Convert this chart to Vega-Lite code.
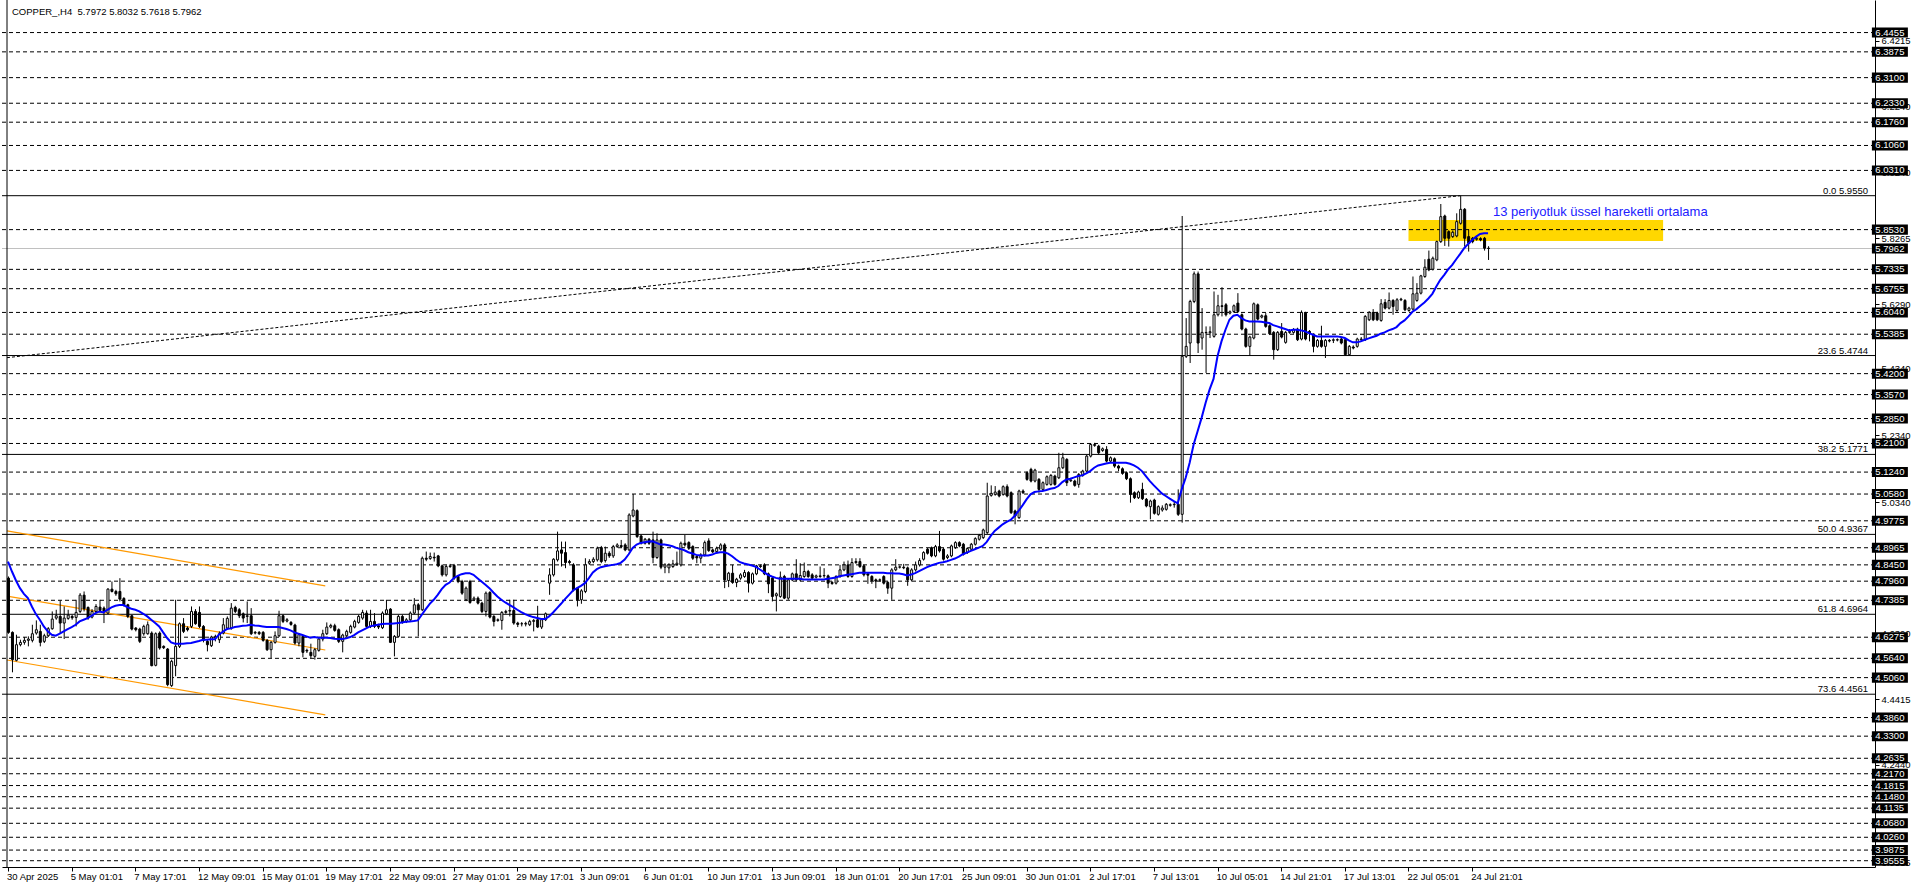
{
"$schema":"https://vega.github.io/schema/vega-lite/v6.json",
"width":1873,"height":867,
"autosize":{"type":"none"},
"padding":{"left":2,"top":0,"right":41,"bottom":21},
"background":"#ffffff",
"config":{"view":{"stroke":null},"font":"Liberation Sans","text":{"font":"Liberation Sans"}},
"datasets":{
"lv":[{"p":6.4455},{"p":6.3875},{"p":6.31},{"p":6.233},{"p":6.176},{"p":6.106},{"p":6.031},{"p":5.853},{"p":5.7335},{"p":5.6755},{"p":5.604},{"p":5.5385},{"p":5.42},{"p":5.357},{"p":5.285},{"p":5.21},{"p":5.124},{"p":5.058},{"p":4.9775},{"p":4.8965},{"p":4.845},{"p":4.796},{"p":4.7385},{"p":4.6275},{"p":4.564},{"p":4.506},{"p":4.386},{"p":4.33},{"p":4.2635},{"p":4.217},{"p":4.1815},{"p":4.148},{"p":4.1135},{"p":4.068},{"p":4.026},{"p":3.9875},{"p":3.9555}],
"bx":[{"p":6.4455},{"p":6.3875},{"p":6.31},{"p":6.233},{"p":6.176},{"p":6.106},{"p":6.031},{"p":5.853},{"p":5.7962},{"p":5.7335},{"p":5.6755},{"p":5.604},{"p":5.5385},{"p":5.42},{"p":5.357},{"p":5.285},{"p":5.21},{"p":5.124},{"p":5.058},{"p":4.9775},{"p":4.8965},{"p":4.845},{"p":4.796},{"p":4.7385},{"p":4.6275},{"p":4.564},{"p":4.506},{"p":4.386},{"p":4.33},{"p":4.2635},{"p":4.217},{"p":4.1815},{"p":4.148},{"p":4.1135},{"p":4.068},{"p":4.026},{"p":3.9875},{"p":3.9555}],
"fib":[{"p":5.955,"t":"0.0 5.9550"},{"p":5.4744,"t":"23.6 5.4744"},{"p":5.1771,"t":"38.2 5.1771"},{"p":4.9367,"t":"50.0 4.9367"},{"p":4.6964,"t":"61.8 4.6964"},{"p":4.4561,"t":"73.6 4.4561"}],
"xl":[{"i":0,"t":"30 Apr 2025"},{"i":16,"t":"5 May 01:01"},{"i":32,"t":"7 May 17:01"},{"i":48,"t":"12 May 09:01"},{"i":64,"t":"15 May 01:01"},{"i":80,"t":"19 May 17:01"},{"i":96,"t":"22 May 09:01"},{"i":112,"t":"27 May 01:01"},{"i":128,"t":"29 May 17:01"},{"i":144,"t":"3 Jun 09:01"},{"i":160,"t":"6 Jun 01:01"},{"i":176,"t":"10 Jun 17:01"},{"i":192,"t":"13 Jun 09:01"},{"i":208,"t":"18 Jun 01:01"},{"i":224,"t":"20 Jun 17:01"},{"i":240,"t":"25 Jun 09:01"},{"i":256,"t":"30 Jun 01:01"},{"i":272,"t":"2 Jul 17:01"},{"i":288,"t":"7 Jul 13:01"},{"i":304,"t":"10 Jul 05:01"},{"i":320,"t":"14 Jul 21:01"},{"i":336,"t":"17 Jul 13:01"},{"i":352,"t":"22 Jul 05:01"},{"i":368,"t":"24 Jul 21:01"}],
"bars":[
{"i":0,"o":4.805,"h":4.81,"l":4.638,"c":4.642,"e":4.855},
{"i":1,"o":4.642,"h":4.645,"l":4.522,"c":4.56,"e":4.825},
{"i":2,"o":4.558,"h":4.635,"l":4.555,"c":4.605,"e":4.798},
{"i":3,"o":4.605,"h":4.62,"l":4.6,"c":4.612,"e":4.775},
{"i":4,"o":4.612,"h":4.628,"l":4.605,"c":4.618,"e":4.758},
{"i":5,"o":4.618,"h":4.63,"l":4.6,"c":4.622,"e":4.745},
{"i":6,"o":4.618,"h":4.665,"l":4.612,"c":4.638,"e":4.72},
{"i":7,"o":4.64,"h":4.678,"l":4.635,"c":4.65,"e":4.697},
{"i":8,"o":4.645,"h":4.665,"l":4.6,"c":4.612,"e":4.68},
{"i":9,"o":4.615,"h":4.638,"l":4.61,"c":4.632,"e":4.66},
{"i":10,"o":4.632,"h":4.658,"l":4.628,"c":4.653,"e":4.645},
{"i":11,"o":4.653,"h":4.705,"l":4.65,"c":4.682,"e":4.635},
{"i":12,"o":4.685,"h":4.71,"l":4.68,"c":4.692,"e":4.632},
{"i":13,"o":4.69,"h":4.738,"l":4.64,"c":4.67,"e":4.638},
{"i":14,"o":4.67,"h":4.72,"l":4.622,"c":4.685,"e":4.645},
{"i":15,"o":4.684,"h":4.71,"l":4.68,"c":4.694,"e":4.652},
{"i":16,"o":4.69,"h":4.695,"l":4.68,"c":4.686,"e":4.658},
{"i":17,"o":4.687,"h":4.74,"l":4.66,"c":4.702,"e":4.665},
{"i":18,"o":4.705,"h":4.76,"l":4.7,"c":4.754,"e":4.675},
{"i":19,"o":4.754,"h":4.765,"l":4.705,"c":4.713,"e":4.68},
{"i":20,"o":4.717,"h":4.72,"l":4.68,"c":4.685,"e":4.685},
{"i":21,"o":4.688,"h":4.712,"l":4.684,"c":4.705,"e":4.692},
{"i":22,"o":4.705,"h":4.727,"l":4.7,"c":4.72,"e":4.7},
{"i":23,"o":4.718,"h":4.74,"l":4.704,"c":4.708,"e":4.705},
{"i":24,"o":4.715,"h":4.72,"l":4.67,"c":4.705,"e":4.702},
{"i":25,"o":4.7,"h":4.775,"l":4.697,"c":4.772,"e":4.71},
{"i":26,"o":4.772,"h":4.795,"l":4.762,"c":4.765,"e":4.717},
{"i":27,"o":4.765,"h":4.77,"l":4.752,"c":4.758,"e":4.722},
{"i":28,"o":4.765,"h":4.805,"l":4.735,"c":4.742,"e":4.724},
{"i":29,"o":4.744,"h":4.748,"l":4.72,"c":4.725,"e":4.724},
{"i":30,"o":4.725,"h":4.728,"l":4.685,"c":4.69,"e":4.718},
{"i":31,"o":4.692,"h":4.695,"l":4.648,"c":4.652,"e":4.713},
{"i":32,"o":4.655,"h":4.658,"l":4.645,"c":4.65,"e":4.71},
{"i":33,"o":4.652,"h":4.656,"l":4.61,"c":4.615,"e":4.705},
{"i":34,"o":4.638,"h":4.665,"l":4.632,"c":4.66,"e":4.698},
{"i":35,"o":4.638,"h":4.675,"l":4.635,"c":4.665,"e":4.69},
{"i":36,"o":4.64,"h":4.645,"l":4.54,"c":4.542,"e":4.68},
{"i":37,"o":4.543,"h":4.642,"l":4.54,"c":4.638,"e":4.67},
{"i":38,"o":4.64,"h":4.645,"l":4.59,"c":4.595,"e":4.66},
{"i":39,"o":4.6,"h":4.603,"l":4.592,"c":4.596,"e":4.642},
{"i":40,"o":4.592,"h":4.595,"l":4.48,"c":4.485,"e":4.625},
{"i":41,"o":4.482,"h":4.56,"l":4.478,"c":4.555,"e":4.612},
{"i":42,"o":4.542,"h":4.74,"l":4.51,"c":4.6,"e":4.608},
{"i":43,"o":4.6,"h":4.672,"l":4.595,"c":4.668,"e":4.608},
{"i":44,"o":4.668,"h":4.685,"l":4.64,"c":4.645,"e":4.608},
{"i":45,"o":4.655,"h":4.66,"l":4.645,"c":4.65,"e":4.609},
{"i":46,"o":4.66,"h":4.72,"l":4.655,"c":4.705,"e":4.61},
{"i":47,"o":4.705,"h":4.712,"l":4.665,"c":4.668,"e":4.613},
{"i":48,"o":4.702,"h":4.72,"l":4.655,"c":4.66,"e":4.616},
{"i":49,"o":4.66,"h":4.664,"l":4.612,"c":4.618,"e":4.62},
{"i":50,"o":4.615,"h":4.62,"l":4.585,"c":4.605,"e":4.62},
{"i":51,"o":4.602,"h":4.632,"l":4.598,"c":4.628,"e":4.621},
{"i":52,"o":4.625,"h":4.635,"l":4.615,"c":4.63,"e":4.621},
{"i":53,"o":4.62,"h":4.645,"l":4.61,"c":4.638,"e":4.635},
{"i":54,"o":4.64,"h":4.685,"l":4.636,"c":4.665,"e":4.644},
{"i":55,"o":4.655,"h":4.69,"l":4.65,"c":4.684,"e":4.652},
{"i":56,"o":4.655,"h":4.73,"l":4.65,"c":4.715,"e":4.654},
{"i":57,"o":4.717,"h":4.722,"l":4.7,"c":4.705,"e":4.658},
{"i":58,"o":4.71,"h":4.715,"l":4.685,"c":4.692,"e":4.66},
{"i":59,"o":4.698,"h":4.702,"l":4.672,"c":4.685,"e":4.662},
{"i":60,"o":4.69,"h":4.735,"l":4.67,"c":4.692,"e":4.663},
{"i":61,"o":4.692,"h":4.715,"l":4.634,"c":4.638,"e":4.665},
{"i":62,"o":4.64,"h":4.646,"l":4.636,"c":4.642,"e":4.663},
{"i":63,"o":4.642,"h":4.646,"l":4.634,"c":4.638,"e":4.662},
{"i":64,"o":4.642,"h":4.646,"l":4.614,"c":4.618,"e":4.66},
{"i":65,"o":4.618,"h":4.622,"l":4.586,"c":4.59,"e":4.658},
{"i":66,"o":4.59,"h":4.616,"l":4.565,"c":4.612,"e":4.658},
{"i":67,"o":4.612,"h":4.645,"l":4.608,"c":4.632,"e":4.658},
{"i":68,"o":4.632,"h":4.707,"l":4.628,"c":4.692,"e":4.658},
{"i":69,"o":4.692,"h":4.696,"l":4.67,"c":4.675,"e":4.655},
{"i":70,"o":4.676,"h":4.685,"l":4.672,"c":4.68,"e":4.652},
{"i":71,"o":4.672,"h":4.676,"l":4.662,"c":4.666,"e":4.648},
{"i":72,"o":4.664,"h":4.668,"l":4.605,"c":4.61,"e":4.642},
{"i":73,"o":4.61,"h":4.64,"l":4.6,"c":4.635,"e":4.638},
{"i":74,"o":4.63,"h":4.634,"l":4.567,"c":4.582,"e":4.634},
{"i":75,"o":4.588,"h":4.593,"l":4.58,"c":4.586,"e":4.63},
{"i":76,"o":4.582,"h":4.608,"l":4.565,"c":4.572,"e":4.626},
{"i":77,"o":4.57,"h":4.595,"l":4.56,"c":4.59,"e":4.628},
{"i":78,"o":4.588,"h":4.626,"l":4.584,"c":4.622,"e":4.626},
{"i":79,"o":4.622,"h":4.65,"l":4.615,"c":4.638,"e":4.626},
{"i":80,"o":4.638,"h":4.672,"l":4.634,"c":4.658,"e":4.626},
{"i":81,"o":4.658,"h":4.668,"l":4.654,"c":4.663,"e":4.625},
{"i":82,"o":4.662,"h":4.668,"l":4.644,"c":4.648,"e":4.623},
{"i":83,"o":4.65,"h":4.654,"l":4.61,"c":4.615,"e":4.622},
{"i":84,"o":4.615,"h":4.638,"l":4.582,"c":4.634,"e":4.622},
{"i":85,"o":4.632,"h":4.65,"l":4.628,"c":4.645,"e":4.624},
{"i":86,"o":4.642,"h":4.665,"l":4.638,"c":4.66,"e":4.628},
{"i":87,"o":4.658,"h":4.68,"l":4.654,"c":4.675,"e":4.634},
{"i":88,"o":4.672,"h":4.695,"l":4.668,"c":4.69,"e":4.642},
{"i":89,"o":4.685,"h":4.71,"l":4.68,"c":4.702,"e":4.648},
{"i":90,"o":4.7,"h":4.708,"l":4.655,"c":4.66,"e":4.654},
{"i":91,"o":4.66,"h":4.71,"l":4.655,"c":4.675,"e":4.66},
{"i":92,"o":4.675,"h":4.7,"l":4.655,"c":4.66,"e":4.663},
{"i":93,"o":4.662,"h":4.668,"l":4.652,"c":4.658,"e":4.665},
{"i":94,"o":4.656,"h":4.705,"l":4.652,"c":4.7,"e":4.667},
{"i":95,"o":4.698,"h":4.74,"l":4.694,"c":4.71,"e":4.668},
{"i":96,"o":4.712,"h":4.715,"l":4.61,"c":4.612,"e":4.668},
{"i":97,"o":4.612,"h":4.634,"l":4.57,"c":4.63,"e":4.669},
{"i":98,"o":4.63,"h":4.695,"l":4.626,"c":4.69,"e":4.67},
{"i":99,"o":4.69,"h":4.695,"l":4.668,"c":4.672,"e":4.672},
{"i":100,"o":4.674,"h":4.685,"l":4.67,"c":4.68,"e":4.674},
{"i":101,"o":4.68,"h":4.705,"l":4.676,"c":4.7,"e":4.675},
{"i":102,"o":4.7,"h":4.745,"l":4.696,"c":4.725,"e":4.676},
{"i":103,"o":4.725,"h":4.73,"l":4.63,"c":4.71,"e":4.678},
{"i":104,"o":4.71,"h":4.87,"l":4.706,"c":4.865,"e":4.695},
{"i":105,"o":4.865,"h":4.885,"l":4.856,"c":4.862,"e":4.712},
{"i":106,"o":4.864,"h":4.882,"l":4.86,"c":4.87,"e":4.728},
{"i":107,"o":4.868,"h":4.882,"l":4.855,"c":4.866,"e":4.74},
{"i":108,"o":4.872,"h":4.875,"l":4.838,"c":4.842,"e":4.755},
{"i":109,"o":4.842,"h":4.846,"l":4.81,"c":4.815,"e":4.772},
{"i":110,"o":4.815,"h":4.845,"l":4.81,"c":4.84,"e":4.785},
{"i":111,"o":4.84,"h":4.848,"l":4.836,"c":4.842,"e":4.792},
{"i":112,"o":4.843,"h":4.848,"l":4.8,"c":4.805,"e":4.805},
{"i":113,"o":4.81,"h":4.814,"l":4.79,"c":4.795,"e":4.812},
{"i":114,"o":4.795,"h":4.8,"l":4.755,"c":4.76,"e":4.817},
{"i":115,"o":4.74,"h":4.78,"l":4.736,"c":4.775,"e":4.82},
{"i":116,"o":4.795,"h":4.8,"l":4.728,"c":4.732,"e":4.82},
{"i":117,"o":4.74,"h":4.75,"l":4.736,"c":4.745,"e":4.815},
{"i":118,"o":4.745,"h":4.75,"l":4.726,"c":4.73,"e":4.805},
{"i":119,"o":4.73,"h":4.734,"l":4.7,"c":4.705,"e":4.795},
{"i":120,"o":4.705,"h":4.765,"l":4.69,"c":4.76,"e":4.785},
{"i":121,"o":4.762,"h":4.766,"l":4.684,"c":4.688,"e":4.775},
{"i":122,"o":4.69,"h":4.694,"l":4.66,"c":4.675,"e":4.762},
{"i":123,"o":4.678,"h":4.684,"l":4.674,"c":4.68,"e":4.75},
{"i":124,"o":4.678,"h":4.706,"l":4.65,"c":4.702,"e":4.74},
{"i":125,"o":4.702,"h":4.71,"l":4.698,"c":4.705,"e":4.732},
{"i":126,"o":4.706,"h":4.74,"l":4.69,"c":4.708,"e":4.725},
{"i":127,"o":4.708,"h":4.74,"l":4.665,"c":4.67,"e":4.718},
{"i":128,"o":4.67,"h":4.674,"l":4.658,"c":4.666,"e":4.71},
{"i":129,"o":4.668,"h":4.673,"l":4.66,"c":4.668,"e":4.703},
{"i":130,"o":4.667,"h":4.674,"l":4.66,"c":4.669,"e":4.697},
{"i":131,"o":4.665,"h":4.68,"l":4.661,"c":4.675,"e":4.692},
{"i":132,"o":4.675,"h":4.682,"l":4.645,"c":4.678,"e":4.688},
{"i":133,"o":4.68,"h":4.722,"l":4.655,"c":4.658,"e":4.685},
{"i":134,"o":4.658,"h":4.684,"l":4.652,"c":4.68,"e":4.682},
{"i":135,"o":4.68,"h":4.702,"l":4.676,"c":4.698,"e":4.682},
{"i":136,"o":4.79,"h":4.835,"l":4.755,"c":4.815,"e":4.69},
{"i":137,"o":4.815,"h":4.865,"l":4.81,"c":4.862,"e":4.702},
{"i":138,"o":4.86,"h":4.945,"l":4.855,"c":4.887,"e":4.715},
{"i":139,"o":4.89,"h":4.915,"l":4.84,"c":4.88,"e":4.728},
{"i":140,"o":4.882,"h":4.915,"l":4.835,"c":4.852,"e":4.742},
{"i":141,"o":4.855,"h":4.86,"l":4.848,"c":4.852,"e":4.755},
{"i":142,"o":4.845,"h":4.85,"l":4.765,"c":4.77,"e":4.768},
{"i":143,"o":4.775,"h":4.778,"l":4.72,"c":4.74,"e":4.775},
{"i":144,"o":4.74,"h":4.772,"l":4.728,"c":4.767,"e":4.782},
{"i":145,"o":4.765,"h":4.865,"l":4.76,"c":4.845,"e":4.79},
{"i":146,"o":4.85,"h":4.862,"l":4.845,"c":4.855,"e":4.805},
{"i":147,"o":4.855,"h":4.868,"l":4.85,"c":4.862,"e":4.822},
{"i":148,"o":4.86,"h":4.9,"l":4.855,"c":4.895,"e":4.832},
{"i":149,"o":4.897,"h":4.902,"l":4.85,"c":4.855,"e":4.838},
{"i":150,"o":4.858,"h":4.9,"l":4.852,"c":4.88,"e":4.841},
{"i":151,"o":4.88,"h":4.886,"l":4.866,"c":4.872,"e":4.843},
{"i":152,"o":4.872,"h":4.905,"l":4.866,"c":4.9,"e":4.845},
{"i":153,"o":4.9,"h":4.91,"l":4.896,"c":4.905,"e":4.847},
{"i":154,"o":4.903,"h":4.92,"l":4.896,"c":4.9,"e":4.851},
{"i":155,"o":4.905,"h":4.91,"l":4.886,"c":4.89,"e":4.861},
{"i":156,"o":4.89,"h":5.0,"l":4.886,"c":4.995,"e":4.877},
{"i":157,"o":4.992,"h":5.058,"l":4.988,"c":5.01,"e":4.896},
{"i":158,"o":5.008,"h":5.012,"l":4.926,"c":4.93,"e":4.906},
{"i":159,"o":4.932,"h":4.936,"l":4.906,"c":4.91,"e":4.911},
{"i":160,"o":4.91,"h":4.926,"l":4.906,"c":4.922,"e":4.913},
{"i":161,"o":4.922,"h":4.926,"l":4.905,"c":4.91,"e":4.915},
{"i":162,"o":4.92,"h":4.945,"l":4.85,"c":4.867,"e":4.916},
{"i":163,"o":4.867,"h":4.94,"l":4.863,"c":4.92,"e":4.911},
{"i":164,"o":4.92,"h":4.924,"l":4.832,"c":4.838,"e":4.906},
{"i":165,"o":4.838,"h":4.85,"l":4.82,"c":4.845,"e":4.906},
{"i":166,"o":4.836,"h":4.85,"l":4.82,"c":4.845,"e":4.904},
{"i":167,"o":4.84,"h":4.86,"l":4.836,"c":4.848,"e":4.901},
{"i":168,"o":4.846,"h":4.885,"l":4.842,"c":4.85,"e":4.896},
{"i":169,"o":4.845,"h":4.915,"l":4.84,"c":4.91,"e":4.893},
{"i":170,"o":4.91,"h":4.935,"l":4.9,"c":4.905,"e":4.889},
{"i":171,"o":4.912,"h":4.916,"l":4.89,"c":4.895,"e":4.883},
{"i":172,"o":4.9,"h":4.904,"l":4.86,"c":4.865,"e":4.879},
{"i":173,"o":4.87,"h":4.874,"l":4.85,"c":4.866,"e":4.875},
{"i":174,"o":4.865,"h":4.88,"l":4.85,"c":4.875,"e":4.873},
{"i":175,"o":4.875,"h":4.918,"l":4.87,"c":4.912,"e":4.873},
{"i":176,"o":4.917,"h":4.925,"l":4.884,"c":4.888,"e":4.873},
{"i":177,"o":4.89,"h":4.894,"l":4.88,"c":4.884,"e":4.876},
{"i":178,"o":4.885,"h":4.9,"l":4.88,"c":4.895,"e":4.881},
{"i":179,"o":4.892,"h":4.91,"l":4.888,"c":4.905,"e":4.883},
{"i":180,"o":4.905,"h":4.91,"l":4.775,"c":4.8,"e":4.883},
{"i":181,"o":4.798,"h":4.824,"l":4.778,"c":4.82,"e":4.879},
{"i":182,"o":4.82,"h":4.845,"l":4.788,"c":4.792,"e":4.871},
{"i":183,"o":4.792,"h":4.806,"l":4.778,"c":4.802,"e":4.861},
{"i":184,"o":4.805,"h":4.82,"l":4.8,"c":4.815,"e":4.853},
{"i":185,"o":4.81,"h":4.83,"l":4.806,"c":4.822,"e":4.849},
{"i":186,"o":4.822,"h":4.826,"l":4.762,"c":4.79,"e":4.846},
{"i":187,"o":4.79,"h":4.822,"l":4.786,"c":4.818,"e":4.843},
{"i":188,"o":4.818,"h":4.845,"l":4.814,"c":4.842,"e":4.839},
{"i":189,"o":4.842,"h":4.846,"l":4.836,"c":4.84,"e":4.831},
{"i":190,"o":4.845,"h":4.85,"l":4.814,"c":4.818,"e":4.823},
{"i":191,"o":4.818,"h":4.822,"l":4.76,"c":4.788,"e":4.815},
{"i":192,"o":4.805,"h":4.81,"l":4.735,"c":4.75,"e":4.81},
{"i":193,"o":4.752,"h":4.762,"l":4.705,"c":4.758,"e":4.806},
{"i":194,"o":4.75,"h":4.825,"l":4.746,"c":4.808,"e":4.803},
{"i":195,"o":4.81,"h":4.815,"l":4.742,"c":4.745,"e":4.803},
{"i":196,"o":4.745,"h":4.805,"l":4.74,"c":4.8,"e":4.803},
{"i":197,"o":4.8,"h":4.822,"l":4.796,"c":4.818,"e":4.803},
{"i":198,"o":4.818,"h":4.862,"l":4.796,"c":4.8,"e":4.803},
{"i":199,"o":4.8,"h":4.85,"l":4.796,"c":4.813,"e":4.803},
{"i":200,"o":4.81,"h":4.852,"l":4.806,"c":4.825,"e":4.801},
{"i":201,"o":4.825,"h":4.83,"l":4.806,"c":4.81,"e":4.801},
{"i":202,"o":4.815,"h":4.82,"l":4.8,"c":4.805,"e":4.801},
{"i":203,"o":4.808,"h":4.816,"l":4.804,"c":4.812,"e":4.801},
{"i":204,"o":4.812,"h":4.84,"l":4.806,"c":4.81,"e":4.801},
{"i":205,"o":4.812,"h":4.835,"l":4.806,"c":4.813,"e":4.801},
{"i":206,"o":4.812,"h":4.816,"l":4.775,"c":4.79,"e":4.803},
{"i":207,"o":4.792,"h":4.796,"l":4.785,"c":4.789,"e":4.805},
{"i":208,"o":4.79,"h":4.814,"l":4.786,"c":4.81,"e":4.807},
{"i":209,"o":4.81,"h":4.845,"l":4.806,"c":4.83,"e":4.811},
{"i":210,"o":4.83,"h":4.855,"l":4.826,"c":4.845,"e":4.813},
{"i":211,"o":4.845,"h":4.858,"l":4.806,"c":4.81,"e":4.815},
{"i":212,"o":4.81,"h":4.865,"l":4.806,"c":4.852,"e":4.817},
{"i":213,"o":4.852,"h":4.865,"l":4.848,"c":4.855,"e":4.819},
{"i":214,"o":4.855,"h":4.865,"l":4.836,"c":4.84,"e":4.821},
{"i":215,"o":4.842,"h":4.846,"l":4.81,"c":4.815,"e":4.821},
{"i":216,"o":4.818,"h":4.822,"l":4.788,"c":4.814,"e":4.821},
{"i":217,"o":4.81,"h":4.814,"l":4.788,"c":4.798,"e":4.821},
{"i":218,"o":4.8,"h":4.804,"l":4.775,"c":4.796,"e":4.821},
{"i":219,"o":4.799,"h":4.804,"l":4.795,"c":4.8,"e":4.821},
{"i":220,"o":4.81,"h":4.814,"l":4.786,"c":4.79,"e":4.821},
{"i":221,"o":4.792,"h":4.796,"l":4.758,"c":4.775,"e":4.82},
{"i":222,"o":4.775,"h":4.835,"l":4.74,"c":4.83,"e":4.82},
{"i":223,"o":4.83,"h":4.862,"l":4.826,"c":4.838,"e":4.819},
{"i":224,"o":4.838,"h":4.843,"l":4.834,"c":4.839,"e":4.819},
{"i":225,"o":4.838,"h":4.848,"l":4.832,"c":4.836,"e":4.817},
{"i":226,"o":4.836,"h":4.84,"l":4.782,"c":4.8,"e":4.813},
{"i":227,"o":4.8,"h":4.835,"l":4.795,"c":4.83,"e":4.816},
{"i":228,"o":4.83,"h":4.855,"l":4.825,"c":4.845,"e":4.82},
{"i":229,"o":4.845,"h":4.865,"l":4.84,"c":4.858,"e":4.826},
{"i":230,"o":4.862,"h":4.886,"l":4.858,"c":4.882,"e":4.832},
{"i":231,"o":4.892,"h":4.896,"l":4.876,"c":4.88,"e":4.838},
{"i":232,"o":4.897,"h":4.9,"l":4.868,"c":4.872,"e":4.843},
{"i":233,"o":4.872,"h":4.905,"l":4.868,"c":4.9,"e":4.847},
{"i":234,"o":4.9,"h":4.947,"l":4.882,"c":4.887,"e":4.851},
{"i":235,"o":4.892,"h":4.896,"l":4.858,"c":4.862,"e":4.853},
{"i":236,"o":4.867,"h":4.877,"l":4.862,"c":4.872,"e":4.856},
{"i":237,"o":4.872,"h":4.906,"l":4.868,"c":4.902,"e":4.86},
{"i":238,"o":4.897,"h":4.916,"l":4.893,"c":4.912,"e":4.864},
{"i":239,"o":4.912,"h":4.916,"l":4.898,"c":4.902,"e":4.87},
{"i":240,"o":4.907,"h":4.911,"l":4.873,"c":4.877,"e":4.877},
{"i":241,"o":4.882,"h":4.898,"l":4.878,"c":4.894,"e":4.882},
{"i":242,"o":4.892,"h":4.911,"l":4.888,"c":4.907,"e":4.887},
{"i":243,"o":4.907,"h":4.928,"l":4.903,"c":4.924,"e":4.892},
{"i":244,"o":4.922,"h":4.938,"l":4.918,"c":4.934,"e":4.897},
{"i":245,"o":4.927,"h":4.954,"l":4.923,"c":4.95,"e":4.902},
{"i":246,"o":4.942,"h":5.092,"l":4.938,"c":5.052,"e":4.914},
{"i":247,"o":5.054,"h":5.084,"l":5.05,"c":5.06,"e":4.932},
{"i":248,"o":5.057,"h":5.082,"l":5.053,"c":5.064,"e":4.947},
{"i":249,"o":5.067,"h":5.071,"l":5.048,"c":5.052,"e":4.957},
{"i":250,"o":5.057,"h":5.084,"l":5.053,"c":5.08,"e":4.967},
{"i":251,"o":5.08,"h":5.087,"l":5.048,"c":5.052,"e":4.974},
{"i":252,"o":5.062,"h":5.066,"l":4.998,"c":5.002,"e":4.98},
{"i":253,"o":5.007,"h":5.011,"l":4.967,"c":4.992,"e":4.992},
{"i":254,"o":4.987,"h":5.071,"l":4.983,"c":5.067,"e":5.007},
{"i":255,"o":5.067,"h":5.072,"l":5.058,"c":5.062,"e":5.024},
{"i":256,"o":5.122,"h":5.126,"l":5.098,"c":5.102,"e":5.042},
{"i":257,"o":5.132,"h":5.137,"l":5.093,"c":5.097,"e":5.057},
{"i":258,"o":5.097,"h":5.134,"l":5.093,"c":5.13,"e":5.064},
{"i":259,"o":5.102,"h":5.106,"l":5.062,"c":5.072,"e":5.066},
{"i":260,"o":5.072,"h":5.096,"l":5.068,"c":5.092,"e":5.067},
{"i":261,"o":5.087,"h":5.114,"l":5.083,"c":5.11,"e":5.07},
{"i":262,"o":5.087,"h":5.118,"l":5.083,"c":5.114,"e":5.074},
{"i":263,"o":5.112,"h":5.116,"l":5.083,"c":5.087,"e":5.076},
{"i":264,"o":5.107,"h":5.182,"l":5.103,"c":5.137,"e":5.082},
{"i":265,"o":5.137,"h":5.182,"l":5.133,"c":5.167,"e":5.094},
{"i":266,"o":5.162,"h":5.166,"l":5.082,"c":5.092,"e":5.102},
{"i":267,"o":5.098,"h":5.104,"l":5.094,"c":5.1,"e":5.104},
{"i":268,"o":5.097,"h":5.101,"l":5.08,"c":5.084,"e":5.108},
{"i":269,"o":5.087,"h":5.121,"l":5.077,"c":5.117,"e":5.112},
{"i":270,"o":5.114,"h":5.131,"l":5.11,"c":5.127,"e":5.114},
{"i":271,"o":5.127,"h":5.176,"l":5.123,"c":5.172,"e":5.12},
{"i":272,"o":5.172,"h":5.211,"l":5.168,"c":5.207,"e":5.127},
{"i":273,"o":5.204,"h":5.212,"l":5.2,"c":5.207,"e":5.137},
{"i":274,"o":5.202,"h":5.206,"l":5.178,"c":5.182,"e":5.144},
{"i":275,"o":5.189,"h":5.198,"l":5.185,"c":5.194,"e":5.147},
{"i":276,"o":5.192,"h":5.202,"l":5.153,"c":5.157,"e":5.15},
{"i":277,"o":5.157,"h":5.171,"l":5.153,"c":5.167,"e":5.152},
{"i":278,"o":5.164,"h":5.168,"l":5.137,"c":5.142,"e":5.152},
{"i":279,"o":5.142,"h":5.146,"l":5.127,"c":5.136,"e":5.152},
{"i":280,"o":5.134,"h":5.138,"l":5.116,"c":5.12,"e":5.152},
{"i":281,"o":5.122,"h":5.126,"l":5.1,"c":5.104,"e":5.152},
{"i":282,"o":5.104,"h":5.108,"l":5.032,"c":5.057,"e":5.149},
{"i":283,"o":5.062,"h":5.066,"l":5.043,"c":5.047,"e":5.144},
{"i":284,"o":5.047,"h":5.068,"l":5.043,"c":5.064,"e":5.137},
{"i":285,"o":5.072,"h":5.092,"l":5.04,"c":5.044,"e":5.127},
{"i":286,"o":5.042,"h":5.046,"l":5.018,"c":5.022,"e":5.112},
{"i":287,"o":5.02,"h":5.041,"l":4.982,"c":5.037,"e":5.097},
{"i":288,"o":5.04,"h":5.044,"l":4.996,"c":5.0,"e":5.084},
{"i":289,"o":4.997,"h":5.024,"l":4.993,"c":5.02,"e":5.072},
{"i":290,"o":5.01,"h":5.024,"l":5.005,"c":5.016,"e":5.06},
{"i":291,"o":5.012,"h":5.031,"l":5.008,"c":5.027,"e":5.052},
{"i":292,"o":5.024,"h":5.03,"l":5.02,"c":5.026,"e":5.044},
{"i":293,"o":5.026,"h":5.037,"l":5.017,"c":5.027,"e":5.037},
{"i":294,"o":5.027,"h":5.072,"l":4.992,"c":4.997,"e":5.03},
{"i":295,"o":4.997,"h":5.894,"l":4.972,"c":5.472,"e":5.072},
{"i":296,"o":5.472,"h":5.587,"l":5.467,"c":5.502,"e":5.107},
{"i":297,"o":5.512,"h":5.642,"l":5.452,"c":5.637,"e":5.152},
{"i":298,"o":5.637,"h":5.727,"l":5.632,"c":5.72,"e":5.207},
{"i":299,"o":5.72,"h":5.727,"l":5.482,"c":5.512,"e":5.247},
{"i":300,"o":5.527,"h":5.617,"l":5.492,"c":5.544,"e":5.287},
{"i":301,"o":5.544,"h":5.562,"l":5.422,"c":5.543,"e":5.332},
{"i":302,"o":5.543,"h":5.562,"l":5.527,"c":5.546,"e":5.372},
{"i":303,"o":5.532,"h":5.667,"l":5.528,"c":5.597,"e":5.404},
{"i":304,"o":5.597,"h":5.657,"l":5.592,"c":5.624,"e":5.472},
{"i":305,"o":5.624,"h":5.68,"l":5.592,"c":5.622,"e":5.517},
{"i":306,"o":5.627,"h":5.632,"l":5.592,"c":5.597,"e":5.552},
{"i":307,"o":5.602,"h":5.61,"l":5.598,"c":5.606,"e":5.582},
{"i":308,"o":5.607,"h":5.628,"l":5.603,"c":5.624,"e":5.594},
{"i":309,"o":5.632,"h":5.662,"l":5.603,"c":5.607,"e":5.597},
{"i":310,"o":5.597,"h":5.601,"l":5.55,"c":5.554,"e":5.587},
{"i":311,"o":5.554,"h":5.558,"l":5.498,"c":5.502,"e":5.58},
{"i":312,"o":5.502,"h":5.534,"l":5.474,"c":5.53,"e":5.577},
{"i":313,"o":5.527,"h":5.634,"l":5.523,"c":5.63,"e":5.577},
{"i":314,"o":5.627,"h":5.631,"l":5.58,"c":5.584,"e":5.577},
{"i":315,"o":5.59,"h":5.598,"l":5.586,"c":5.594,"e":5.576},
{"i":316,"o":5.594,"h":5.602,"l":5.558,"c":5.562,"e":5.574},
{"i":317,"o":5.564,"h":5.568,"l":5.536,"c":5.54,"e":5.572},
{"i":318,"o":5.544,"h":5.548,"l":5.462,"c":5.492,"e":5.566},
{"i":319,"o":5.492,"h":5.548,"l":5.488,"c":5.544,"e":5.562},
{"i":320,"o":5.547,"h":5.572,"l":5.526,"c":5.53,"e":5.558},
{"i":321,"o":5.514,"h":5.548,"l":5.51,"c":5.544,"e":5.554},
{"i":322,"o":5.544,"h":5.554,"l":5.54,"c":5.547,"e":5.55},
{"i":323,"o":5.544,"h":5.557,"l":5.54,"c":5.552,"e":5.552},
{"i":324,"o":5.554,"h":5.558,"l":5.518,"c":5.522,"e":5.552},
{"i":325,"o":5.524,"h":5.61,"l":5.52,"c":5.604,"e":5.55},
{"i":326,"o":5.602,"h":5.606,"l":5.52,"c":5.524,"e":5.547},
{"i":327,"o":5.547,"h":5.551,"l":5.517,"c":5.542,"e":5.542},
{"i":328,"o":5.537,"h":5.541,"l":5.484,"c":5.502,"e":5.537},
{"i":329,"o":5.502,"h":5.524,"l":5.498,"c":5.52,"e":5.532},
{"i":330,"o":5.52,"h":5.564,"l":5.498,"c":5.502,"e":5.532},
{"i":331,"o":5.502,"h":5.524,"l":5.467,"c":5.52,"e":5.532},
{"i":332,"o":5.52,"h":5.524,"l":5.514,"c":5.518,"e":5.532},
{"i":333,"o":5.52,"h":5.526,"l":5.512,"c":5.522,"e":5.532},
{"i":334,"o":5.522,"h":5.526,"l":5.517,"c":5.521,"e":5.532},
{"i":335,"o":5.524,"h":5.528,"l":5.508,"c":5.512,"e":5.53},
{"i":336,"o":5.522,"h":5.526,"l":5.473,"c":5.477,"e":5.527},
{"i":337,"o":5.477,"h":5.506,"l":5.474,"c":5.502,"e":5.52},
{"i":338,"o":5.5,"h":5.505,"l":5.493,"c":5.497,"e":5.514},
{"i":339,"o":5.502,"h":5.528,"l":5.498,"c":5.524,"e":5.514},
{"i":340,"o":5.522,"h":5.53,"l":5.518,"c":5.524,"e":5.517},
{"i":341,"o":5.522,"h":5.596,"l":5.518,"c":5.592,"e":5.522},
{"i":342,"o":5.582,"h":5.608,"l":5.578,"c":5.604,"e":5.526},
{"i":343,"o":5.604,"h":5.614,"l":5.578,"c":5.582,"e":5.53},
{"i":344,"o":5.602,"h":5.606,"l":5.578,"c":5.582,"e":5.534},
{"i":345,"o":5.58,"h":5.644,"l":5.576,"c":5.63,"e":5.54},
{"i":346,"o":5.634,"h":5.644,"l":5.613,"c":5.617,"e":5.544},
{"i":347,"o":5.617,"h":5.664,"l":5.613,"c":5.64,"e":5.55},
{"i":348,"o":5.64,"h":5.644,"l":5.597,"c":5.622,"e":5.554},
{"i":349,"o":5.61,"h":5.647,"l":5.606,"c":5.642,"e":5.56},
{"i":350,"o":5.642,"h":5.648,"l":5.638,"c":5.644,"e":5.572},
{"i":351,"o":5.64,"h":5.644,"l":5.608,"c":5.612,"e":5.58},
{"i":352,"o":5.61,"h":5.621,"l":5.606,"c":5.617,"e":5.592},
{"i":353,"o":5.614,"h":5.712,"l":5.61,"c":5.66,"e":5.606},
{"i":354,"o":5.64,"h":5.692,"l":5.636,"c":5.662,"e":5.614},
{"i":355,"o":5.662,"h":5.717,"l":5.658,"c":5.714,"e":5.624},
{"i":356,"o":5.712,"h":5.764,"l":5.708,"c":5.74,"e":5.634},
{"i":357,"o":5.764,"h":5.79,"l":5.728,"c":5.732,"e":5.646},
{"i":358,"o":5.734,"h":5.772,"l":5.73,"c":5.767,"e":5.66},
{"i":359,"o":5.762,"h":5.82,"l":5.758,"c":5.817,"e":5.682},
{"i":360,"o":5.817,"h":5.93,"l":5.813,"c":5.892,"e":5.702},
{"i":361,"o":5.894,"h":5.898,"l":5.804,"c":5.827,"e":5.717},
{"i":362,"o":5.847,"h":5.851,"l":5.802,"c":5.827,"e":5.734},
{"i":363,"o":5.832,"h":5.85,"l":5.828,"c":5.845,"e":5.747},
{"i":364,"o":5.834,"h":5.902,"l":5.83,"c":5.877,"e":5.764},
{"i":365,"o":5.872,"h":5.955,"l":5.868,"c":5.914,"e":5.78},
{"i":366,"o":5.914,"h":5.918,"l":5.802,"c":5.827,"e":5.797},
{"i":367,"o":5.832,"h":5.854,"l":5.787,"c":5.812,"e":5.81},
{"i":368,"o":5.827,"h":5.831,"l":5.812,"c":5.817,"e":5.822},
{"i":369,"o":5.824,"h":5.834,"l":5.82,"c":5.827,"e":5.832},
{"i":370,"o":5.826,"h":5.83,"l":5.818,"c":5.822,"e":5.84},
{"i":371,"o":5.827,"h":5.831,"l":5.79,"c":5.797,"e":5.842},
{"i":372,"o":5.7972,"h":5.8032,"l":5.7618,"c":5.7962,"e":5.842}
]},
"layer":[
{"data":{"values":[{"a":352,"b":416,"lo":5.819,"hi":5.882}]},
 "mark":{"type":"rect","color":"#FFD700"},
 "encoding":{
  "x":{"field":"a","type":"quantitative","scale":{"domain":[-0.25,468],"nice":false,"zero":false},
   "axis":{"orient":"bottom","values":[0,16,32,48,64,80,96,112,128,144,160,176,192,208,224,240,256,272,288,304,320,336,352,368],"labels":false,"ticks":true,"tickSize":4,"tickColor":"#000000","domain":true,"domainColor":"#000000","domainWidth":1,"grid":false,"title":null}},
  "x2":{"field":"b"},
  "y":{"field":"lo","type":"quantitative","scale":{"domain":[3.9366,6.5434],"nice":false,"zero":false},
   "axis":{"orient":"right","values":[6.519,6.4215,6.324,6.224,6.124,6.024,5.9265,5.8265,5.729,5.629,5.5315,5.434,5.3315,5.234,5.134,5.034,4.9365,4.639,4.539,4.4415,4.344,4.244,4.049,3.9515],"format":".4f","tickSize":4,"labelPadding":2,"labelFont":"Liberation Sans","labelFontSize":9.5,"labelColor":"#000000","tickColor":"#000000","domain":true,"domainColor":"#000000","domainWidth":1,"grid":false,"title":null,"labelOverlap":false,"labels":true,"ticks":true}},
  "y2":{"field":"hi"}}},
{"data":{"name":"fib"},"mark":{"type":"rule","color":"#000000","strokeWidth":1},
 "encoding":{"y":{"field":"p","type":"quantitative","scale":{"domain":[3.9366,6.5434],"nice":false,"zero":false}}}},
{"data":{"name":"lv"},"mark":{"type":"rule","color":"#000000","strokeWidth":1,"strokeDash":[4,3]},
 "encoding":{"y":{"field":"p","type":"quantitative","scale":{"domain":[3.9366,6.5434],"nice":false,"zero":false}}}},
{"data":{"values":[{"p":5.7962}]},"mark":{"type":"rule","color":"#C0C0C0","strokeWidth":1},
 "encoding":{"y":{"field":"p","type":"quantitative","scale":{"domain":[3.9366,6.5434],"nice":false,"zero":false}}}},
{"data":{"values":[{"i":-0.25,"p":5.468},{"i":365,"p":5.955}]},"mark":{"type":"line","color":"#000000","strokeWidth":1,"strokeDash":[3,2]},
 "encoding":{"x":{"field":"i","type":"quantitative","scale":{"domain":[-0.25,468],"nice":false,"zero":false}},
  "y":{"field":"p","type":"quantitative","scale":{"domain":[3.9366,6.5434],"nice":false,"zero":false}}}},
{"data":{"values":[{"g":"u","i":-0.25,"p":4.947},{"g":"u","i":79.75,"p":4.782},{"g":"m","i":-0.25,"p":4.751},{"g":"m","i":79.75,"p":4.589},{"g":"l","i":-0.25,"p":4.559},{"g":"l","i":79.75,"p":4.394}]},
 "mark":{"type":"line","color":"#FF9900","strokeWidth":1.2},
 "encoding":{"x":{"field":"i","type":"quantitative","scale":{"domain":[-0.25,468],"nice":false,"zero":false}},
  "y":{"field":"p","type":"quantitative","scale":{"domain":[3.9366,6.5434],"nice":false,"zero":false}},
  "detail":{"field":"g"}}},
{"data":{"values":[{"v":0}]},"mark":{"type":"rule","color":"#000000","strokeWidth":1},
 "encoding":{"x":{"datum":-0.25,"type":"quantitative","scale":{"domain":[-0.25,468],"nice":false,"zero":false}}}},
{"data":{"name":"bars"},"mark":{"type":"rule","color":"#000000","strokeWidth":1,"xOffset":0.5},
 "encoding":{"x":{"field":"i","type":"quantitative","scale":{"domain":[-0.25,468],"nice":false,"zero":false}},
  "y":{"field":"l","type":"quantitative","scale":{"domain":[3.9366,6.5434],"nice":false,"zero":false}},
  "y2":{"field":"h"}}},
{"data":{"name":"bars"},"mark":{"type":"bar","width":2,"stroke":"#000000","strokeWidth":1,"xOffset":0.5},
 "encoding":{"x":{"field":"i","type":"quantitative","scale":{"domain":[-0.25,468],"nice":false,"zero":false}},
  "y":{"field":"o","type":"quantitative","scale":{"domain":[3.9366,6.5434],"nice":false,"zero":false}},
  "y2":{"field":"c"},
  "fill":{"condition":{"test":"datum.c >= datum.o","value":"#ffffff"},"value":"#000000"}}},
{"data":{"name":"bars"},"mark":{"type":"line","color":"#0000FF","strokeWidth":2},
 "encoding":{"x":{"field":"i","type":"quantitative","scale":{"domain":[-0.25,468],"nice":false,"zero":false}},
  "y":{"field":"e","type":"quantitative","scale":{"domain":[3.9366,6.5434],"nice":false,"zero":false}}}},
{"data":{"name":"fib"},"mark":{"type":"text","align":"right","baseline":"alphabetic","dy":-2,"font":"Liberation Sans","fontSize":9.5,"color":"#000000"},
 "encoding":{"x":{"datum":467.5,"type":"quantitative","scale":{"domain":[-0.25,468],"nice":false,"zero":false}},
  "y":{"field":"p","type":"quantitative","scale":{"domain":[3.9366,6.5434],"nice":false,"zero":false}},
  "text":{"field":"t"}}},
{"data":{"name":"xl"},"mark":{"type":"text","align":"left","baseline":"middle","dx":-1,"dy":10,"font":"Liberation Sans","fontSize":9.5,"color":"#000000"},
 "encoding":{"x":{"field":"i","type":"quantitative","scale":{"domain":[-0.25,468],"nice":false,"zero":false}},
  "y":{"datum":3.9366,"type":"quantitative","scale":{"domain":[3.9366,6.5434],"nice":false,"zero":false}},
  "text":{"field":"t"}}},
{"data":{"values":[{"t":"COPPER_,H4 \u00a05.7972 5.8032 5.7618 5.7962","i":1,"p":6.507}]},
 "mark":{"type":"text","align":"left","baseline":"middle","font":"Liberation Sans","fontSize":9.5,"color":"#000000"},
 "encoding":{"x":{"field":"i","type":"quantitative","scale":{"domain":[-0.25,468],"nice":false,"zero":false}},
  "y":{"field":"p","type":"quantitative","scale":{"domain":[3.9366,6.5434],"nice":false,"zero":false}},
  "text":{"field":"t"}}},
{"data":{"values":[{"t":"13 periyotluk üssel hareketli ortalama","i":373.25,"p":5.907}]},
 "mark":{"type":"text","align":"left","baseline":"middle","font":"Liberation Sans","fontSize":13,"color":"#2020FF"},
 "encoding":{"x":{"field":"i","type":"quantitative","scale":{"domain":[-0.25,468],"nice":false,"zero":false}},
  "y":{"field":"p","type":"quantitative","scale":{"domain":[3.9366,6.5434],"nice":false,"zero":false}},
  "text":{"field":"t"}}},
{"data":{"name":"bx"},"mark":{"type":"point","shape":"M-1,-0.278H1V0.278H-1Z","filled":true,"size":1296,"color":"#000000","opacity":1,"strokeWidth":0},
 "encoding":{"x":{"datum":473,"type":"quantitative","scale":{"domain":[-0.25,468],"nice":false,"zero":false}},
  "y":{"field":"p","type":"quantitative","scale":{"domain":[3.9366,6.5434],"nice":false,"zero":false}}}},
{"data":{"name":"bx"},"mark":{"type":"text","align":"center","baseline":"middle","font":"Liberation Sans","fontSize":9.5,"color":"#ffffff"},
 "encoding":{"x":{"datum":473,"type":"quantitative","scale":{"domain":[-0.25,468],"nice":false,"zero":false}},
  "y":{"field":"p","type":"quantitative","scale":{"domain":[3.9366,6.5434],"nice":false,"zero":false}},
  "text":{"field":"p","type":"quantitative","format":".4f"}}}
]
}
